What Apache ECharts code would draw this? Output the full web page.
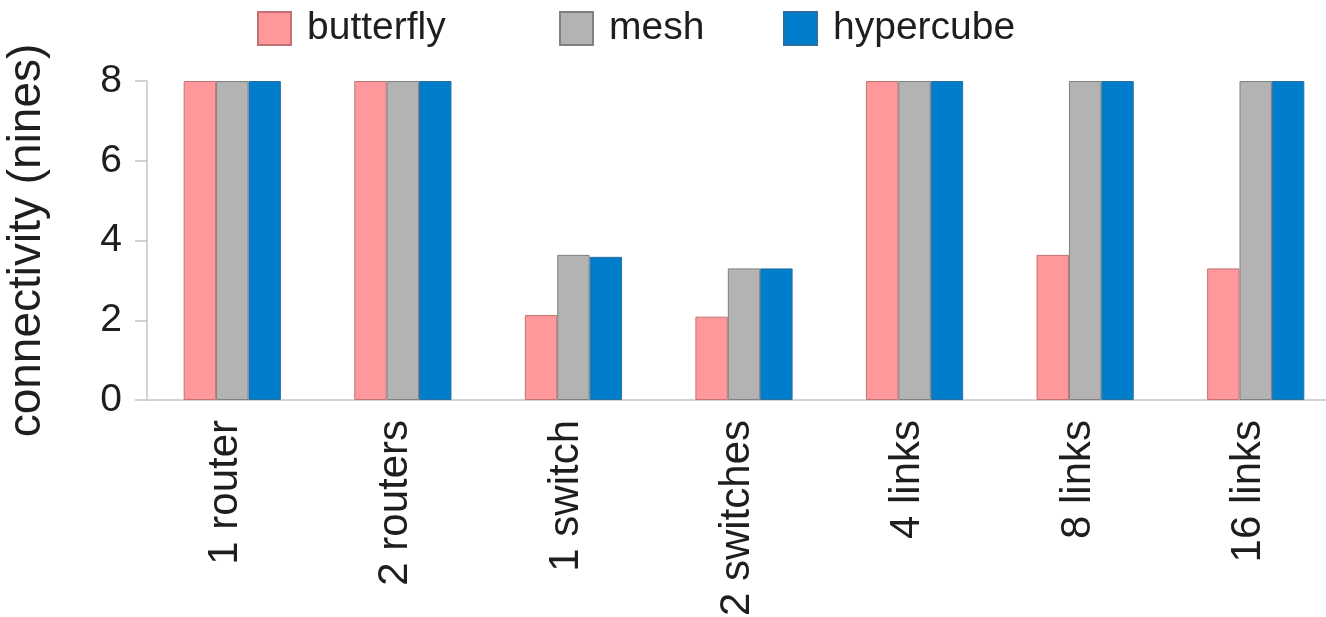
<!DOCTYPE html>
<html>
<head>
<meta charset="utf-8">
<script src="https://cdn.jsdelivr.net/npm/echarts@6/dist/echarts.min.js"></script>
<style>
html,body{margin:0;padding:0;background:#ffffff;}
#chart{width:1326px;height:617px;}
</style>
</head>
<body>
<div id="chart"></div>
<script>
const categories = ['1 router', '2 routers', '1 switch', '2 switches', '4 links', '8 links', '16 links'];
const seriesNames = ['butterfly', 'mesh', 'hypercube'];
const butterfly = [8, 8, 2.13, 2.09, 8, 3.64, 3.30];
const mesh = [8, 8, 3.64, 3.30, 8, 8, 8];
const hypercube = [8, 8, 3.59, 3.30, 8, 8, 8];
const yTicks = [0, 2, 4, 6, 8];

const fillColors = ['#ff989a', '#b3b3b3', '#007ecb'];
const borderColors = ['#c27274', '#808080', '#2a6fa0'];
const values = [butterfly, mesh, hypercube];
const legendLeft = [257, 559, 783];
const FONT = 'Liberation Sans';
const TXT = '#1e1e1e';

const chart = echarts.init(document.getElementById('chart'));
const option = {
  backgroundColor: '#ffffff',
  animation: false,
  legend: seriesNames.map((n, i) => ({
    data: [n],
    left: legendLeft[i],
    top: 9,
    padding: 0,
    itemWidth: 33,
    itemHeight: 33,
    icon: 'rect',
    textStyle: { fontFamily: FONT, fontSize: 39, color: TXT, padding: [0, 0, 0, 11] }
  })),
  grid: { left: 147, right: -15, top: 81, bottom: 217, containLabel: false, outerBoundsMode: 'none' },
  xAxis: {
    type: 'category',
    data: categories,
    axisLine: { lineStyle: { color: '#c4c4c4', width: 1.5 } },
    axisTick: { alignWithLabel: true, length: 8, lineStyle: { color: '#c4c4c4', width: 1.5 } },
    axisLabel: {
      rotate: 90, margin: 20, fontFamily: FONT, fontSize: 42, color: TXT,
      verticalAlign: 'bottom', lineHeight: 14, interval: 0
    }
  },
  yAxis: {
    type: 'value',
    min: 0, max: 8, interval: 2,
    name: 'connectivity (nines)',
    nameLocation: 'middle',
    nameGap: 97,
    nameTextStyle: { fontFamily: FONT, fontSize: 46, color: TXT },
    axisLine: { show: true, lineStyle: { color: '#c4c4c4', width: 1.5 } },
    axisTick: { show: true, length: 12, lineStyle: { color: '#c4c4c4', width: 1.5 } },
    splitLine: { show: false },
    axisLabel: {
      margin: 25, fontFamily: FONT, fontSize: 39, color: TXT,
      formatter: v => (yTicks.includes(v) ? String(v) : '')
    }
  },
  series: seriesNames.map((n, i) => ({
    name: n,
    type: 'bar',
    data: values[i],
    barWidth: 32.4,
    barGap: '0%',
    itemStyle: { color: fillColors[i], borderColor: borderColors[i], borderWidth: 1 }
  }))
};
chart.setOption(option);
</script>
</body>
</html>
